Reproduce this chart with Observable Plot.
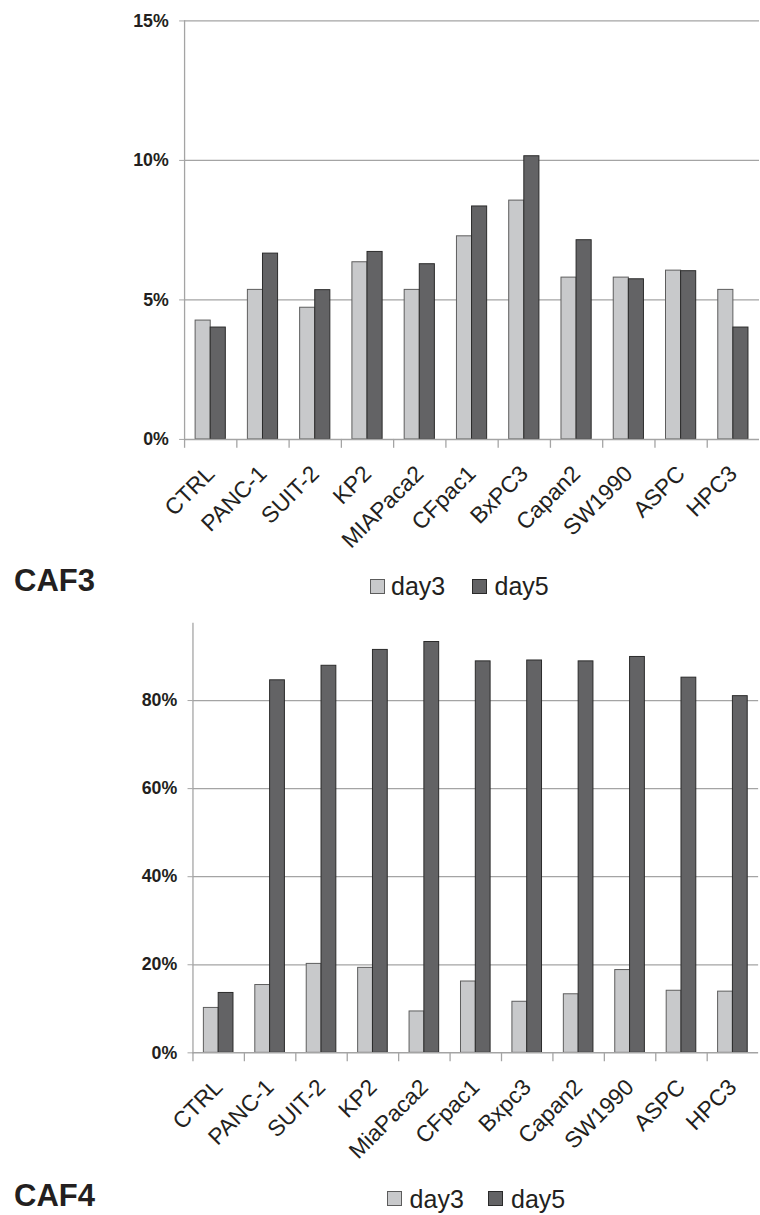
<!DOCTYPE html>
<html><head><meta charset="utf-8">
<script src="https://cdn.jsdelivr.net/npm/d3@7"></script>
<script src="https://cdn.jsdelivr.net/npm/@observablehq/plot@0.6"></script>
<style>
html,body{margin:0;padding:0;background:#fff;overflow:hidden;}
#wrap{position:relative;width:760px;height:1215px;overflow:hidden;font-family:"Liberation Sans",Arial,Helvetica,sans-serif;color:#231f20;}
.abs{position:absolute;white-space:nowrap;}
.caf{font-size:31px;font-weight:bold;line-height:26px;}
.sw{width:13px;height:13px;}
.lt{font-size:25px;line-height:20px;}
#wrap svg g[aria-label="y-axis tick label"] text{font-weight:bold;}
</style></head><body>
<div id="wrap"></div>
<script>
// ---- data ----
const seriesNames = ["day3", "day5"];

const caf3Categories = ["CTRL","PANC-1","SUIT-2","KP2","MIAPaca2","CFpac1","BxPC3","Capan2","SW1990","ASPC","HPC3"];
const caf3Day3 = [4.26, 5.36, 4.72, 6.35, 5.36, 7.28, 8.56, 5.80, 5.80, 6.05, 5.36];
const caf3Day5 = [4.01, 6.66, 5.35, 6.72, 6.28, 8.35, 10.15, 7.14, 5.74, 6.03, 4.01];
const caf3Ticks = [0, 5, 10, 15];

const caf4Categories = ["CTRL","PANC-1","SUIT-2","KP2","MiaPaca2","CFpac1","Bxpc3","Capan2","SW1990","ASPC","HPC3"];
const caf4Day3 = [10.2, 15.4, 20.2, 19.3, 9.4, 16.2, 11.6, 13.3, 18.8, 14.1, 13.9];
const caf4Day5 = [13.6, 84.6, 87.9, 91.5, 93.3, 88.9, 89.1, 88.9, 89.9, 85.2, 81.0];
const caf4Ticks = [0, 20, 40, 60, 80];

const colors = {day3: "#c8c9cb", day5: "#636365"};
const strokes = {day3: "#5c5c5c", day5: "#2a2a2a"};
const grid = "#a4a4a4";
const ink = "#231f20";

function chart(o) {
  const bw = (o.width - o.marginLeft - o.marginRight) / o.cats.length;
  const outer = bw / 2 - o.barW;
  const plotH = o.height - o.marginTop - o.marginBottom;
  const tickLen = 9 * o.ymax / plotH;
  const rows3 = o.cats.map((c, i) => ({cat: c, series: seriesNames[0], value: o.d3[i]}));
  const rows5 = o.cats.map((c, i) => ({cat: c, series: seriesNames[1], value: o.d5[i]}));
  return Plot.plot({
    width: o.width, height: o.height,
    marginLeft: o.marginLeft, marginRight: o.marginRight,
    marginTop: o.marginTop, marginBottom: o.marginBottom,
    style: {fontFamily: '"Liberation Sans", Arial, sans-serif', fontSize: "18px", color: ink, background: "transparent", overflow: "visible"},
    x: {type: "band", domain: o.cats, padding: 0, round: false, axis: null},
    y: {domain: [0, o.ymax]},
    marks: [
      Plot.ruleY(o.ticks.filter(t => t > 0), {stroke: grid, strokeWidth: 1.3}),
      Plot.barY(rows3, {x: "cat", y: "value", fill: colors.day3, stroke: strokes.day3, strokeWidth: 1, insetLeft: outer, insetRight: bw / 2}),
      Plot.barY(rows5, {x: "cat", y: "value", fill: colors.day5, stroke: strokes.day5, strokeWidth: 1, insetLeft: bw / 2, insetRight: outer}),
      Plot.ruleY([0], {stroke: grid, strokeWidth: 1.5}),
      Plot.frame({anchor: "left", stroke: grid, strokeWidth: 1.3}),
      Plot.ruleX(o.cats, {x: d => d, y1: 0, y2: -tickLen, dx: -bw / 2, stroke: grid, strokeWidth: 1.3}),
      Plot.axisY({ticks: o.ticks, tickSize: 5, tickPadding: 11, tickFormat: d => d + "%", fontSize: 18, fontWeight: "bold", stroke: grid, fill: ink, label: null}),
      Plot.text(o.cats, {x: d => d, y: 0, text: d => d, rotate: -45, textAnchor: "end", lineAnchor: "middle", dx: 0, dy: 31, fontSize: 23, fill: ink})
    ]
  });
}

const wrap = document.getElementById("wrap");

function place(el, top) {
  el.style.position = "absolute";
  el.style.left = "0px";
  el.style.top = top + "px";
  wrap.appendChild(el);
}

place(chart({cats: caf3Categories, d3: caf3Day3, d5: caf3Day5, ticks: caf3Ticks, ymax: 15,
  width: 770, marginLeft: 186.5, marginRight: 1, height: 560, marginTop: 20.7, marginBottom: 115.3, barW: 15.3}), 0);

place(chart({cats: caf4Categories, d3: caf4Day3, d5: caf4Day5, ticks: caf4Ticks, ymax: 97.5,
  width: 770, marginLeft: 195, marginRight: 1.9, height: 570, marginTop: 23.3, marginBottom: 111.7, barW: 15}), 600);

function addDiv(cls, text, left, top, extra) {
  const d = document.createElement("div");
  d.className = "abs " + cls;
  if (text) d.textContent = text;
  d.style.left = left + "px";
  d.style.top = top + "px";
  if (extra) Object.assign(d.style, extra);
  wrap.appendChild(d);
  return d;
}

function legend(title, titleTop, sq1, tx1, sq2, tx2, sqTop, txTop) {
  addDiv("caf", title, 14, titleTop);
  addDiv("sw", "", sq1, sqTop, {background: colors.day3, border: "1px solid " + strokes.day3});
  addDiv("lt", seriesNames[0], tx1, txTop);
  addDiv("sw", "", sq2, sqTop, {background: colors.day5, border: "1px solid " + strokes.day5});
  addDiv("lt", seriesNames[1], tx2, txTop);
}

legend("CAF3", 568.4, 370, 391, 471.5, 494.5, 579, 576.4);
legend("CAF4", 1183.4, 386.8, 409.6, 488.3, 511, 1191, 1189.4);
</script>
</body></html>
